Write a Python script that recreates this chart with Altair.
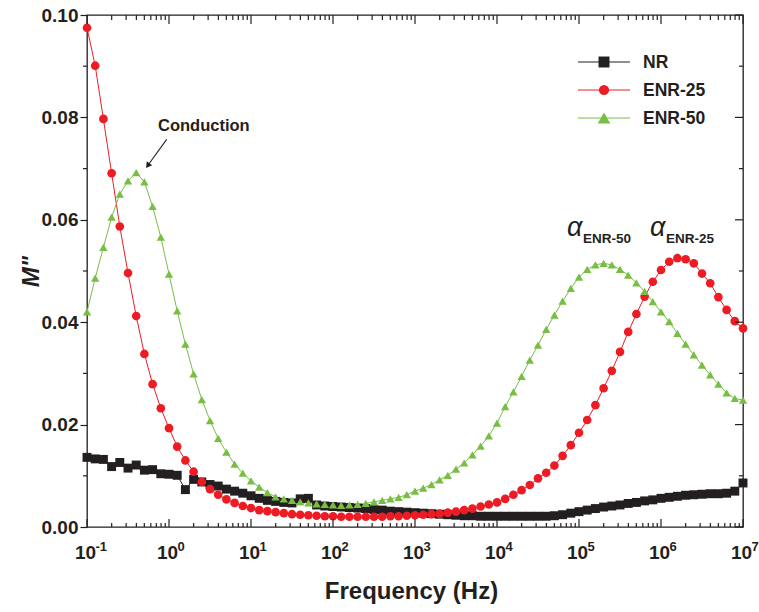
import altair as alt
import numpy as np
import pandas as pd

# Frequency sweep: 10 points per decade from 0.1 Hz to 10 MHz
freq = np.logspace(-1, 7, 81)

nr = [0.0136, 0.0133, 0.0132, 0.0118, 0.0126, 0.0115, 0.0121, 0.0111, 0.0112, 0.0104,
      0.0103, 0.0101, 0.0073, 0.0093, 0.0088, 0.0083, 0.0080, 0.0074, 0.0070, 0.0066,
      0.0061, 0.0056, 0.0052, 0.0050, 0.0048, 0.0047, 0.0055, 0.0056, 0.0043, 0.0041,
      0.0040, 0.0039, 0.0038, 0.0037, 0.0036, 0.0034, 0.0033, 0.0031, 0.0030, 0.0029,
      0.0028, 0.0027, 0.0026, 0.0025, 0.0024, 0.0023, 0.0022, 0.0022, 0.0021, 0.0021,
      0.0021, 0.0021, 0.0021, 0.0021, 0.0021, 0.0021, 0.0021, 0.0022, 0.0024, 0.0027,
      0.0030, 0.0033, 0.0036, 0.0039, 0.0041, 0.0043, 0.0046, 0.0048, 0.0051, 0.0053,
      0.0056, 0.0058, 0.0060, 0.0062, 0.0063, 0.0064, 0.0065, 0.0065, 0.0066, 0.0070,
      0.0086]

enr25 = [0.0975, 0.0901, 0.0797, 0.0691, 0.0587, 0.0496, 0.0412, 0.0338, 0.0279, 0.0232,
         0.0193, 0.0157, 0.0130, 0.0108, 0.0088, 0.0074, 0.0063, 0.0054, 0.0047, 0.0041,
         0.0037, 0.0033, 0.0031, 0.0029, 0.0027, 0.0025, 0.0024, 0.0023, 0.0022, 0.0021,
         0.0021, 0.0020, 0.0020, 0.0020, 0.0020, 0.0020, 0.0020, 0.0021, 0.0021, 0.0022,
         0.0023, 0.0024, 0.0025, 0.0026, 0.0028, 0.0030, 0.0033, 0.0036, 0.0040, 0.0044,
         0.0048, 0.0055, 0.0063, 0.0072, 0.0082, 0.0095, 0.0106, 0.0120, 0.0139, 0.0160,
         0.0184, 0.0209, 0.0238, 0.0271, 0.0305, 0.0342, 0.0381, 0.0416, 0.0450, 0.0479,
         0.0502, 0.0518, 0.0525, 0.0523, 0.0515, 0.0495, 0.0476, 0.0449, 0.0424, 0.0402,
         0.0388]

enr50 = [0.0420, 0.0486, 0.0546, 0.0605, 0.0650, 0.0676, 0.0692, 0.0674, 0.0626, 0.0566,
         0.0494, 0.0422, 0.0357, 0.0299, 0.0249, 0.0208, 0.0173, 0.0146, 0.0123, 0.0105,
         0.0090, 0.0078, 0.0067, 0.0059, 0.0055, 0.0052, 0.0049, 0.0047, 0.0045, 0.0044,
         0.0043, 0.0042, 0.0043, 0.0044, 0.0046, 0.0049, 0.0052, 0.0055, 0.0058, 0.0063,
         0.0070, 0.0076, 0.0083, 0.0092, 0.0101, 0.0113, 0.0125, 0.0141, 0.0158, 0.0178,
         0.0203, 0.0235, 0.0264, 0.0294, 0.0326, 0.0355, 0.0386, 0.0414, 0.0441, 0.0466,
         0.0488, 0.0503, 0.0512, 0.0515, 0.0512, 0.0503, 0.0492, 0.0477, 0.0460, 0.0440,
         0.0420, 0.0401, 0.0378, 0.0357, 0.0336, 0.0316, 0.0297, 0.0279, 0.0262, 0.0251,
         0.0248]

series_names = ["NR", "ENR-25", "ENR-50"]
series_colors = ["#231F20", "#ED1C24", "#77BE43"]
series_shapes = ["square", "circle", "triangle-up"]
series_sizes = [80, 70, 105]

decades = [0.1, 1, 10, 100, 1e3, 1e4, 1e5, 1e6, 1e7]
exponents = ["-1", "0", "1", "2", "3", "4", "5", "6", "7"]
y_major = [0.0, 0.02, 0.04, 0.06, 0.08, 0.10]
y_minor = [0.01, 0.03, 0.05, 0.07, 0.09]

W, H = 656, 512
FONT = "Liberation Sans"
INK = "#231F20"

df = pd.DataFrame({
    "f": np.tile(freq, 3),
    "m": nr + enr25 + enr50,
    "s": np.repeat(series_names, len(freq)),
})

x_minor = [k * d for d in decades[:-1] for k in range(2, 10)]
xmaj_df = pd.DataFrame({"f": decades})
xmin_df = pd.DataFrame({"f": x_minor})
ymaj_df = pd.DataFrame({"m": y_major})
ymin_df = pd.DataFrame({"m": y_minor})
exp_df = pd.DataFrame({"f": decades, "e": exponents})

x_scale = alt.Scale(type="log", domain=[0.1, 1e7], nice=False)
y_scale = alt.Scale(domain=[0, 0.1], nice=False, zero=False)

x_axis = alt.Axis(
    values=decades, labelExpr="'10'", ticks=False, tickSize=0, domain=False, grid=False,
    labelFont=FONT, labelFontSize=19, labelFontWeight="bold", labelColor=INK,
    labelBaseline="alphabetic", labelPadding=31, labelFlush=False, labelOffset=-2,
    title="Frequency (Hz)", titleFont=FONT, titleFontSize=24, titleFontWeight="bold",
    titleColor=INK, titleX=324, titleY=71, titleBaseline="alphabetic", titleAlign="center",
)
y_axis = alt.Axis(
    values=y_major, format=".2f", ticks=True, tickSize=7, tickWidth=1.2, tickColor=INK,
    domain=False, grid=False, labelPadding=2, labelFlush=False,
    labelFont=FONT, labelFontSize=19, labelFontWeight="bold", labelColor=INK,
    title='M"', titleFont=FONT, titleFontSize=24, titleFontWeight="bold",
    titleFontStyle="italic", titleColor=INK, titleX=-49, titleY=256,
    titleAlign="center", titleBaseline="alphabetic", titleAngle=270,
)

X = alt.X("f:Q", scale=x_scale, axis=x_axis)
Y = alt.Y("m:Q", scale=y_scale, axis=y_axis)
color = alt.Color("s:N", scale=alt.Scale(domain=series_names, range=series_colors), legend=None)
shape = alt.Shape("s:N", scale=alt.Scale(domain=series_names, range=series_shapes), legend=None)
size = alt.Size("s:N", scale=alt.Scale(domain=series_names, range=series_sizes), legend=None)

lines = alt.Chart(df).mark_line(strokeWidth=1).encode(x=X, y=Y, color=color, detail="s:N")
points = alt.Chart(df).mark_point(filled=True, opacity=1, strokeWidth=0).encode(
    x=X, y=Y, color=color, shape=shape, size=size
)

# Inward ticks on bottom/top/right frame edges, outward minor ticks on the left
tick_style = dict(color=INK, strokeWidth=1.2)
bottom_major = alt.Chart(xmaj_df).mark_rule(**tick_style).encode(x=X, y=alt.value(H), y2=alt.value(H - 8))
bottom_minor = alt.Chart(xmin_df).mark_rule(**tick_style).encode(x=X, y=alt.value(H), y2=alt.value(H - 4))
top_major = alt.Chart(xmaj_df).mark_rule(**tick_style).encode(x=X, y=alt.value(0), y2=alt.value(9))
top_minor = alt.Chart(xmin_df).mark_rule(**tick_style).encode(x=X, y=alt.value(0), y2=alt.value(5))
right_major = alt.Chart(ymaj_df).mark_rule(**tick_style).encode(y=Y, x=alt.value(W), x2=alt.value(W - 8))
right_minor = alt.Chart(ymin_df).mark_rule(**tick_style).encode(y=Y, x=alt.value(W), x2=alt.value(W - 4))
left_minor = alt.Chart(ymin_df).mark_rule(**tick_style).encode(y=Y, x=alt.value(-4), x2=alt.value(0))

exps = alt.Chart(exp_df).mark_text(
    font=FONT, fontSize=13, fontWeight="bold", color=INK, align="left", baseline="alphabetic", dx=8.5
).encode(x=X, y=alt.value(H + 24), text="e:N")

# Annotations
cond_df = pd.DataFrame({"f": [0.735], "m": [0.0773], "t": ["Conduction"]})
conduction = alt.Chart(cond_df).mark_text(
    font=FONT, fontSize=16.5, fontWeight="bold", color=INK, align="left", baseline="alphabetic"
).encode(x=X, y=Y, text="t:N")

arrow_df = pd.DataFrame({"f": [0.937], "m": [0.0757], "f2": [0.551], "m2": [0.0706]})
arrow_line = alt.Chart(arrow_df).mark_rule(color=INK, strokeWidth=1.1).encode(
    x=X, y=Y, x2="f2:Q", y2="m2:Q"
)
head_df = pd.DataFrame({"f": [0.551], "m": [0.0706]})
arrow_head = alt.Chart(head_df).mark_point(
    shape="triangle-up", filled=True, color=INK, opacity=1, size=45, angle=216, strokeWidth=0
).encode(x=X, y=Y)

alpha_df = pd.DataFrame({"f": [7.14e4, 7.35e5], "m": [0.0568, 0.0568]})
sub_df = pd.DataFrame({"f": [1.12e5, 1.15e6], "m": [0.0555, 0.0555], "t": ["ENR-50", "ENR-25"]})
alpha_txt = alt.Chart(alpha_df).mark_text(
    text="α", font=FONT, fontSize=27, fontStyle="italic", color=INK, align="left", baseline="alphabetic"
).encode(x=X, y=Y)
sub_txt = alt.Chart(sub_df).mark_text(
    font=FONT, fontSize=13.5, fontWeight="bold", color=INK, align="left", baseline="alphabetic"
).encode(x=X, y=Y, text="t:N")

# Legend block in the upper right
legend_layers = []
for i, (name, col, shp, sz) in enumerate(zip(series_names, series_colors, series_shapes, series_sizes)):
    ly = 47 + 28 * i
    one = pd.DataFrame({"t": [name]})
    legend_layers.append(alt.Chart(one).mark_rule(color=col, strokeWidth=1).encode(
        x=alt.value(491), x2=alt.value(543), y=alt.value(ly)))
    legend_layers.append(alt.Chart(one).mark_point(
        shape=shp, filled=True, color=col, opacity=1, size=sz * 1.5, strokeWidth=0
    ).encode(x=alt.value(517), y=alt.value(ly)))
    legend_layers.append(alt.Chart(one).mark_text(
        font=FONT, fontSize=17.5, fontWeight="bold", color=INK, align="left", baseline="middle"
    ).encode(x=alt.value(556), y=alt.value(ly + 1), text="t:N"))

chart = alt.layer(
    lines, points,
    bottom_major, bottom_minor, top_major, top_minor, right_major, right_minor, left_minor,
    exps, conduction, arrow_line, arrow_head, alpha_txt, sub_txt,
    *legend_layers,
).properties(
    width=W, height=H,
    padding={"left": 87, "top": 15, "right": 16, "bottom": 85},
    autosize=alt.AutoSizeParams(type="none"),
    background="white",
).configure_view(stroke=INK, strokeWidth=1.3)

chart.save("out.html", embed_options={"renderer": "svg", "actions": False})
